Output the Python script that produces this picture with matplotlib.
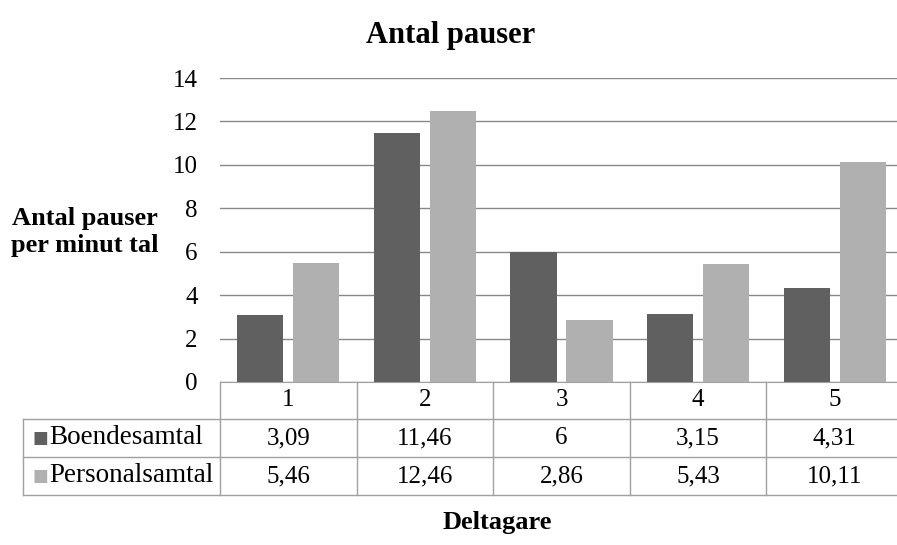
import numpy as np
import matplotlib
matplotlib.use('Agg')
import matplotlib.pyplot as plt

# --- Data ---
categories = ['1', '2', '3', '4', '5']
boende = [3.09, 11.46, 6, 3.15, 4.31]
personal = [5.46, 12.46, 2.86, 5.43, 10.11]
boende_labels = ['3,09', '11,46', '6', '3,15', '4,31']
personal_labels = ['5,46', '12,46', '2,86', '5,43', '10,11']
series_names = ['Boendesamtal', 'Personalsamtal']
yticks = [0, 2, 4, 6, 8, 10, 12, 14]

dark = '#606060'
light = '#b0b0b0'
grid_col = '#888888'
tab_col = '#a0a0a0'

plt.rcParams['font.family'] = ['Liberation Serif', 'DejaVu Serif']

fig = plt.figure(figsize=(8.97, 5.45), dpi=100)
W, H = 897, 545
# plot area in pixels: x 220..903, y 78..382
ax = fig.add_axes([220 / W, 1 - 382 / H, 683 / W, 304 / H])

x = np.arange(len(categories))
bw = 0.337
off = 0.205
ax.bar(x - off, boende, bw, color=dark, zorder=3)
ax.bar(x + off, personal, bw, color=light, zorder=3)

ax.set_xlim(-0.5, len(categories) - 0.5)
ax.set_ylim(0, 14)
ax.set_yticks(yticks)
ax.set_yticklabels([str(t) for t in yticks], fontsize=18)
ax.tick_params(axis='y', length=0, pad=16)
ax.set_xticks([])
for s in ['top', 'right', 'left']:
    ax.spines[s].set_visible(False)
ax.spines['bottom'].set_color(tab_col)
ax.yaxis.grid(True, color=grid_col, linewidth=1, zorder=0)

# --- data table below plot ---
tr = ax.transAxes
px_x = lambda p: (p - 220) / 683.0
px_y = lambda p: (382 - p) / 304.0
rows_y = [382, 419, 457, 495]
col_x = [220 + 136.6 * i for i in range(len(categories) + 1)]
left_x = 23

def hline(y, x0, x1):
    ax.plot([px_x(x0), px_x(x1)], [px_y(y), px_y(y)], color=tab_col, lw=1,
            transform=tr, clip_on=False)

def vline(xp, y0, y1):
    ax.plot([px_x(xp), px_x(xp)], [px_y(y0), px_y(y1)], color=tab_col, lw=1,
            transform=tr, clip_on=False)

for y in rows_y[1:]:
    hline(y, left_x, col_x[-1])
for xp in col_x:
    vline(xp, rows_y[0], rows_y[-1])
vline(left_x, rows_y[1], rows_y[-1])

for i, c in enumerate(categories):
    cx = px_x((col_x[i] + col_x[i + 1]) / 2)
    ax.text(cx, px_y((rows_y[0] + rows_y[1]) / 2), c, ha='center', va='center',
            fontsize=18, transform=tr)
    ax.text(cx, px_y((rows_y[1] + rows_y[2]) / 2), boende_labels[i], ha='center',
            va='center', fontsize=18, transform=tr)
    ax.text(cx, px_y((rows_y[2] + rows_y[3]) / 2), personal_labels[i], ha='center',
            va='center', fontsize=18, transform=tr)

for k, (name, col) in enumerate(zip(series_names, [dark, light])):
    yc = px_y((rows_y[k + 1] + rows_y[k + 2]) / 2)
    ax.text(px_x(32), yc, '■', color=col, ha='left', va='center', fontsize=12,
            transform=tr, family='DejaVu Sans')
    ax.text(px_x(49), yc, name, ha='left', va='center', fontsize=19.5, transform=tr)

fig.text(451 / W, 1 - 35 / H, 'Antal pauser', ha='center', va='center',
         fontsize=22, fontweight='bold')
fig.text(85 / W, 1 - 232 / H, 'Antal pauser\nper minut tal', ha='center',
         va='center', fontsize=19, fontweight='bold', linespacing=1.2)
fig.text(497 / W, 1 - 523 / H, 'Deltagare', ha='center', va='center',
         fontsize=19, fontweight='bold')

fig.savefig('out.png', dpi=100)
